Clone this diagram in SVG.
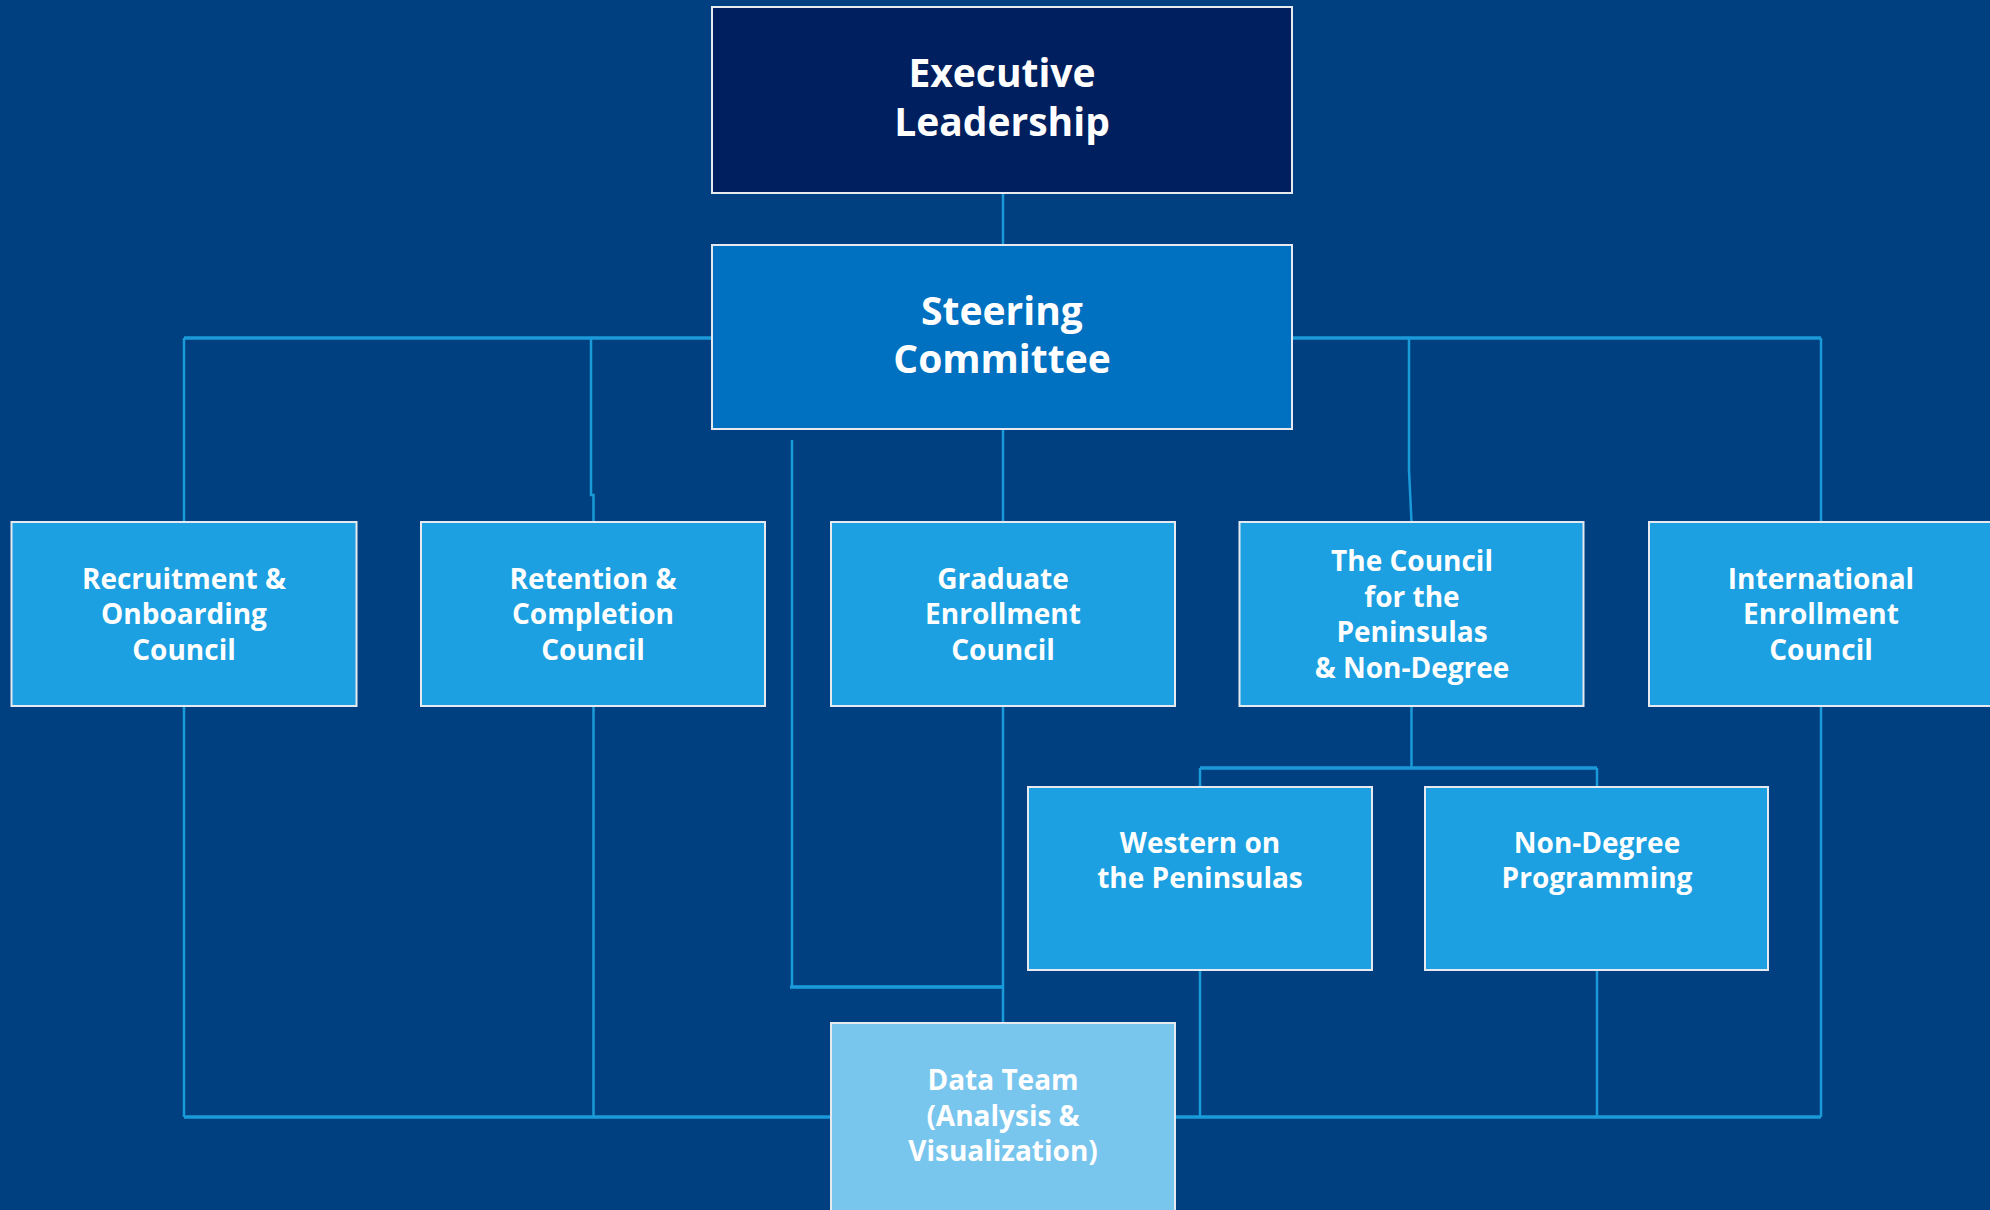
<svg xmlns="http://www.w3.org/2000/svg" width="1990" height="1210" viewBox="0 0 1990 1210">
<style>
.box{stroke:#e6e9ef;stroke-width:2}
.exec{fill:#001f5e}
.steer{fill:#0070c0}
.mid{fill:#1ca0e1}
.data{fill:#78c5ee}
.t{font-family:"Open Sans","Noto Sans",sans-serif;font-weight:bold;fill:#ffffff;text-anchor:middle}
.big{font-size:39px}
.sm{font-size:28px}
.v{fill:none;stroke:#1a9ad8;stroke-width:2.5}
.h{fill:none;stroke:#1a9ad8;stroke-width:3.5}
</style>
<rect width="1990" height="1210" fill="#004080"/>
<g id="connectors">
<line class="v" x1="1003" y1="193" x2="1003" y2="245"/>
<line class="h" x1="184" y1="338" x2="712" y2="338"/>
<line class="h" x1="1292" y1="338" x2="1821" y2="338"/>
<line class="v" x1="184" y1="338" x2="184" y2="522"/>
<path class="v" d="M591,338 V495 H593.5 V522"/>
<path class="v" d="M1409,338 V470 L1411.5,522"/>
<line class="v" x1="1821" y1="338" x2="1821" y2="522"/>
<line class="v" x1="1003" y1="429" x2="1003" y2="522"/>
<path class="v" d="M792,440 V987 H1003"/>
<line class="h" x1="790" y1="987" x2="1003" y2="987"/>
<line class="v" x1="1003" y1="706" x2="1003" y2="1023"/>
<line class="v" x1="1411.5" y1="706" x2="1411.5" y2="768"/>
<line class="h" x1="1200" y1="768" x2="1597" y2="768"/>
<line class="v" x1="1200" y1="768" x2="1200" y2="787"/>
<line class="v" x1="1597" y1="768" x2="1597" y2="787"/>
<line class="v" x1="184" y1="706" x2="184" y2="1117"/>
<line class="v" x1="593.5" y1="706" x2="593.5" y2="1117"/>
<line class="v" x1="1200" y1="970" x2="1200" y2="1117"/>
<line class="v" x1="1597" y1="970" x2="1597" y2="1117"/>
<line class="v" x1="1821" y1="706" x2="1821" y2="1117"/>
<line class="h" x1="184" y1="1117" x2="1821" y2="1117"/>
</g>
<g id="executive">
<rect class="box exec" x="712" y="7" width="580" height="186"/>
<text class="t big" x="1002" y="87">Executive</text>
<text class="t big" x="1002" y="136">Leadership</text>
</g>
<g id="steering">
<rect class="box steer" x="712" y="245" width="580" height="184"/>
<text class="t big" x="1002" y="325">Steering</text>
<text class="t big" x="1002" y="373">Committee</text>
</g>
<g id="recruitment">
<rect class="box mid" x="11.5" y="522" width="345" height="184"/>
<text class="t sm" x="184" y="589">Recruitment &amp;</text>
<text class="t sm" x="184" y="624">Onboarding</text>
<text class="t sm" x="184" y="660">Council</text>
</g>
<g id="retention">
<rect class="box mid" x="421" y="522" width="344" height="184"/>
<text class="t sm" x="593" y="589">Retention &amp;</text>
<text class="t sm" x="593" y="624">Completion</text>
<text class="t sm" x="593" y="660">Council</text>
</g>
<g id="graduate">
<rect class="box mid" x="831" y="522" width="344" height="184"/>
<text class="t sm" x="1003" y="589">Graduate</text>
<text class="t sm" x="1003" y="624">Enrollment</text>
<text class="t sm" x="1003" y="660">Council</text>
</g>
<g id="peninsulas-council">
<rect class="box mid" x="1239.5" y="522" width="344" height="184"/>
<text class="t sm" x="1412" y="571">The Council</text>
<text class="t sm" x="1412" y="607">for the</text>
<text class="t sm" x="1412" y="642">Peninsulas</text>
<text class="t sm" x="1412" y="678">&amp; Non-Degree</text>
</g>
<g id="international">
<rect class="box mid" x="1649" y="522" width="346" height="184"/>
<text class="t sm" x="1821" y="589">International</text>
<text class="t sm" x="1821" y="624">Enrollment</text>
<text class="t sm" x="1821" y="660">Council</text>
</g>
<g id="western">
<rect class="box mid" x="1028" y="787" width="344" height="183"/>
<text class="t sm" x="1200" y="853">Western on</text>
<text class="t sm" x="1200" y="888">the Peninsulas</text>
</g>
<g id="nondegree">
<rect class="box mid" x="1425" y="787" width="343" height="183"/>
<text class="t sm" x="1597" y="853">Non-Degree</text>
<text class="t sm" x="1597" y="888">Programming</text>
</g>
<g id="datateam">
<rect class="box data" x="831" y="1023" width="344" height="192"/>
<text class="t sm" x="1003" y="1090">Data Team</text>
<text class="t sm" x="1003" y="1126">(Analysis &amp;</text>
<text class="t sm" x="1003" y="1161">Visualization)</text>
</g>
</svg>
